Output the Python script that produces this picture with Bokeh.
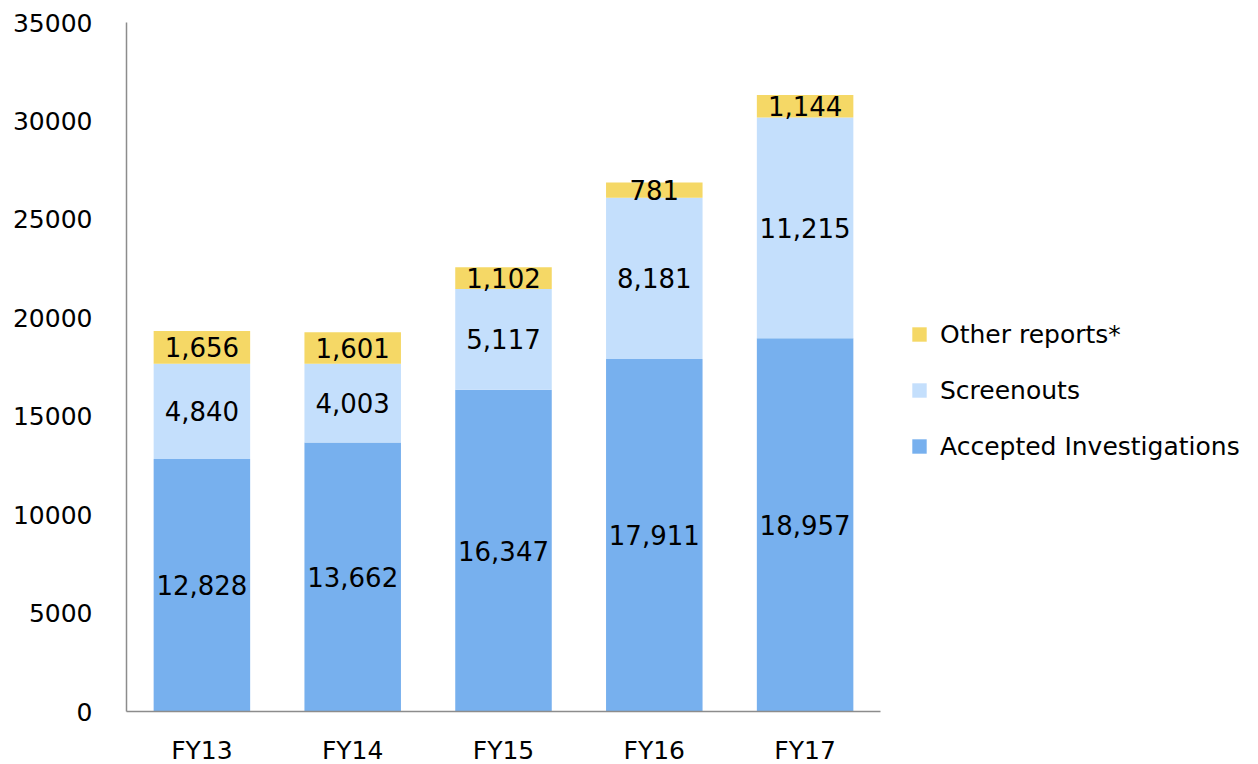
from bokeh.plotting import figure
from bokeh.models import ColumnDataSource, FactorRange, Range1d, Legend, LegendItem, LabelSet
from bokeh.core.properties import value
from bokeh.embed import file_html
from bokeh.resources import INLINE

years = ["FY13", "FY14", "FY15", "FY16", "FY17"]
accepted = [12828, 13662, 16347, 17911, 18957]
screenouts = [4840, 4003, 5117, 8181, 11215]
other = [1656, 1601, 1102, 781, 1144]
series = ["accepted", "screenouts", "other"]
series_names = ["Accepted Investigations", "Screenouts", "Other reports*"]
colors = ["#77B0EE", "#C4DFFC", "#F5D866"]
y_ticks = [0, 5000, 10000, 15000, 20000, 25000, 30000, 35000]

FONT = "DejaVu Sans"

src = ColumnDataSource(dict(years=years, accepted=accepted, screenouts=screenouts, other=other))

p = figure(x_range=FactorRange(*years, range_padding=0), y_range=Range1d(0, 35000),
           frame_width=754, frame_height=689, min_border_left=126, min_border_top=22,
           min_border_bottom=45, min_border_right=360,
           output_backend="svg", toolbar_location=None)

renderers = p.vbar_stack(series, x="years", width=0.64, color=colors, source=src, line_color=None)

# labels at the middle of each segment
lab_x, lab_y, lab_t = [], [], []
for i, yr in enumerate(years):
    base = 0
    for vals in (accepted, screenouts, other):
        v = vals[i]
        lab_x.append(yr)
        lab_y.append(base + v / 2)
        lab_t.append(f"{v:,}")
        base += v
lsrc = ColumnDataSource(dict(x=lab_x, y=lab_y, t=lab_t))
labels = LabelSet(x="x", y="y", text="t", source=lsrc, text_align="center", text_baseline="middle",
                  text_font=value(FONT), text_font_size=value("26px"), text_color="black")
p.add_layout(labels)

legend = Legend(items=[LegendItem(label=series_names[k], renderers=[renderers[k]]) for k in (2, 1, 0)],
                location=(30, 250), glyph_width=18, glyph_height=18, label_standoff=12,
                label_text_font=FONT, label_text_font_size="25px", label_text_color="black",
                label_height=30, spacing=26, padding=0, margin=0,
                border_line_color=None, background_fill_alpha=0)
p.add_layout(legend, "right")

for ax in (p.xaxis[0], p.yaxis[0]):
    ax.axis_line_color = "#8c8c8c"
    ax.axis_line_width = 1.5
    ax.major_tick_line_color = None
    ax.minor_tick_line_color = None
    ax.major_label_text_font = FONT
    ax.major_label_text_font_size = "25px"
    ax.major_label_text_color = "black"
p.yaxis.ticker = y_ticks
p.yaxis.major_label_standoff = 28
p.xaxis.major_label_standoff = 18
p.xgrid.grid_line_color = None
p.ygrid.grid_line_color = None
p.outline_line_color = None

open("out.html", "w").write(file_html(p, INLINE))
